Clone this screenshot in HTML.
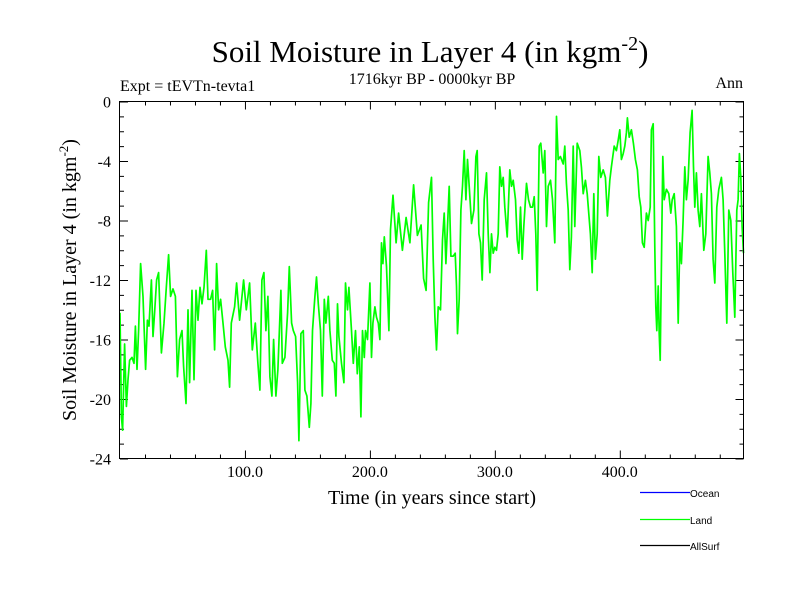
<!DOCTYPE html>
<html><head><meta charset="utf-8"><style>
body{margin:0;background:#fff}
svg text{font-family:"Liberation Serif",serif}
</style></head><body>
<svg id="chart" width="800" height="600" viewBox="0 0 800 600" xmlns="http://www.w3.org/2000/svg">
<rect width="800" height="600" fill="#fff"/>
<text x="430" y="62" font-size="31" text-anchor="middle">Soil Moisture in Layer 4 (in kgm<tspan dy="-12" font-size="20">-2</tspan><tspan dy="12">)</tspan></text>
<text x="432" y="84" font-size="16" text-anchor="middle">1716kyr BP - 0000kyr BP</text>
<text x="120" y="91" font-size="16">Expt = tEVTn-tevta1</text>
<text x="743" y="88" font-size="16" text-anchor="end">Ann</text>
<text transform="translate(76,280) rotate(-90)" font-size="20" text-anchor="middle">Soil Moisture in Layer 4 (in kgm<tspan dy="-8" font-size="13">-2</tspan><tspan dy="8">)</tspan></text>
<text x="432" y="504" font-size="20" text-anchor="middle">Time (in years since start)</text>
<g id="axes"></g>
<g id="series"></g>
<rect x="119.5" y="101.5" width="624" height="357" fill="none" stroke="#000" stroke-width="1"/>
<g>
<line x1="640" y1="492.5" x2="690" y2="492.5" stroke="#0000ff" stroke-width="1.2"/>
<text x="690" y="497" font-size="10" style="font-family:'Liberation Sans',sans-serif">Ocean</text>
<line x1="640" y1="519.5" x2="690" y2="519.5" stroke="#00ff00" stroke-width="1.2"/>
<text x="690" y="524" font-size="10" style="font-family:'Liberation Sans',sans-serif">Land</text>
<line x1="640" y1="545.5" x2="690" y2="545.5" stroke="#000" stroke-width="1.2"/>
<text x="690" y="550" font-size="10" style="font-family:'Liberation Sans',sans-serif">AllSurf</text>
</g>
</svg>
<script>
const years=[0.0,1.1,2.1,3.7,5.1,6.4,7.7,9.6,11.2,12.3,13.6,14.9,16.5,18.4,20.5,21.9,23.2,25.1,26.4,27.7,29.3,30.9,33.1,35.2,37.1,38.9,40.5,42.4,44.3,45.9,47.7,49.6,50.9,52.8,54.4,55.7,57.6,59.2,60.8,62.4,64.0,65.6,67.2,69.1,70.4,72.5,74.1,75.7,77.3,78.9,80.5,82.4,84.3,86.4,87.7,89.1,91.7,93.3,95.7,98.9,101.1,103.7,105.9,108.3,110.4,112.0,113.6,115.2,116.8,118.4,120.0,121.6,122.9,124.8,126.4,
128.8,129.9,132.0,134.1,135.5,137.3,138.7,140.5,142.1,143.2,144.8,146.7,148.0,149.6,151.5,152.8,154.1,156.0,157.3,158.7,160.5,161.9,163.5,164.8,166.7,168.0,169.9,171.5,172.8,174.1,175.2,177.3,179.2,180.5,182.1,183.2,185.3,186.7,188.5,189.9,191.5,192.8,194.1,195.5,196.5,198.1,200.0,201.3,202.4,204.0,205.3,206.7,208.0,209.3,210.4,211.5,213.3,215.2,216.5,
218.5,221,223,226,229,232,235,238,241,243,245,247,
249.3,250.7,252.0,253.3,254.7,256.5,258.1,259.5,260.8,262.1,263.5,264.8,266.7,268.3,269.3,270.1,271.5,272.8,274.1,275.5,276.8,278.1,279.5,281.3,283.2,284.8,285.9,287.2,288.5,289.9,291.5,293.3,294.7,296.0,297.3,298.7,300.0,301.3,302.7,304.0,305.3,306.7,308.0,309.9,312.0,313.3,314.7,316.5,317.9,319.2,320.5,321.9,323.2,325.3,326.9,328.5,330.1,331.5,332.8,333.9,335.5,336.8,338.7,340.0,341.3,342.7,344.5,346.1,348.0,349.3,350.7,352.5,354.7,356.0,357.3,358.7,360.0,361.3,362.7,364.0,365.9,368.0,369.3,370.7,372.5,373.9,
376.5,377.9,379.2,380.5,381.9,383.2,384.8,386.7,388.5,390.1,392.0,393.3,395.5,397.3,398.7,400.0,401.3,402.7,404.0,405.3,406.1,407.5,409.3,410.9,412.5,414.1,415.5,416.8,418.1,419.5,421.3,422.7,424.3,425.3,426.7,428.0,428.8,429.6,430.7,431.5,432.3,433.3,434.4,435.5,437.3,439.2,440.8,441.9,443.5,445.3,446.7,448.0,449.3,450.7,452.0,453.3,454.7,456.3,457.9,459.0,460.0,461.3,462.7,464.0,465.3,467.2,468.8,470.7,472.0,473.3,474.7,476.0,477.6,479.2,481.3,482.7,484.0,485.6,487.2,488.8,490.4,492.0,493.6,494.7,495.7,496.8,497.9,499.0];
const landValues=[-14.2,-21.2,-22.1,-16.3,-20.5,-18.7,-17.4,-17.2,-17.6,-15.1,-18.0,-15.4,-10.9,-13.1,-18.0,-14.7,-15.1,-12.0,-15.8,-14.2,-12.0,-11.5,-16.9,-14.9,-12.4,-10.3,-13.1,-12.6,-13.1,-18.5,-16.0,-15.4,-17.8,-20.3,-14.0,-18.9,-12.7,-18.7,-12.7,-14.7,-12.5,-13.6,-12.5,-10.0,-13.3,-13.3,-12.7,-16.7,-10.9,-14.0,-13.3,-14.9,-16.5,-17.4,-19.2,-14.9,-13.8,-12.2,-14.7,-12.0,-14.0,-12.2,-16.7,-14.9,-17.6,-19.4,-12.0,-11.5,-15.4,-13.1,-18.5,-19.8,-16.0,-19.8,-18.0,
-12.7,-17.6,-17.2,-14.2,-11.1,-14.9,-15.4,-15.8,-18.9,-22.8,-15.6,-15.4,-19.4,-19.8,-21.9,-20.3,-15.4,-13.1,-11.8,-13.6,-15.4,-19.8,-13.3,-14.9,-13.1,-15.4,-17.4,-17.6,-19.8,-13.6,-15.8,-17.6,-18.9,-12.2,-14.0,-12.5,-15.4,-17.6,-15.4,-18.3,-16.5,-21.2,-15.4,-17.2,-15.4,-16.0,-12.2,-17.2,-14.9,-13.8,-14.5,-14.9,-16.0,-9.5,-10.9,-9.1,-11.1,-15.4,-8.6,
-6.3,-9.5,-7.5,-10.0,-7.8,-9.5,-5.6,-9.0,-8.3,-11.9,-12.7,-6.8,
-5.1,-10.6,-14.5,-16.7,-13.8,-14.0,-9.3,-7.5,-10.9,-8.4,-5.7,-10.4,-10.4,-10.2,-12.4,-15.6,-13.3,-7.3,-5.7,-3.3,-6.6,-3.9,-5.7,-8.2,-7.3,-3.7,-3.3,-8.9,-9.5,-12.0,-6.6,-4.8,-8.9,-11.5,-8.9,-10.2,-9.8,-10.0,-8.9,-4.4,-5.7,-5.1,-7.1,-9.1,-4.6,-5.7,-5.3,-6.6,-9.3,-10.2,-7.1,-10.6,-8.4,-5.5,-6.6,-7.1,-7.1,-6.4,-8.9,-12.7,-3.0,-2.8,-4.8,-3.3,-8.4,-5.7,-5.3,-6.6,-9.5,-1.0,-3.9,-3.7,-4.2,-3.0,-5.5,-7.3,-11.3,-9.1,-3.0,-8.4,-2.8,-3.3,-4.4,-6.2,-5.3,-6.2,
-8.9,-11.5,-6.2,-10.6,-8.9,-3.7,-5.1,-4.6,-5.1,-7.7,-5.3,-4.4,-3.0,-3.3,-2.6,-1.9,-3.9,-3.5,-3.0,-2.1,-1.1,-2.4,-1.9,-2.8,-3.9,-4.6,-6.4,-7.1,-9.5,-9.8,-7.5,-8.0,-7.1,-1.9,-1.5,-9.8,-13.8,-15.4,-12.4,-15.6,-17.4,-11.1,-3.7,-6.6,-5.9,-6.2,-7.5,-6.6,-6.2,-8.4,-14.9,-9.5,-10.9,-8.0,-4.4,-6.6,-5.3,-2.1,-0.6,-4.4,-7.1,-4.8,-7.3,-8.4,-6.2,-10.0,-8.9,-3.7,-4.8,-6.2,-10.6,-12.2,-7.1,-5.9,-5.1,-6.6,-10.2,-14.9,-7.3,-8.0,-11.5,-14.5,-7.3,-6.6,-3.5,-5.1,-8.4,-10.2];
const xTicks=[100,200,300,400];
const yTicks=[0,-4,-8,-12,-16,-20,-24];
const X0=120,X1=743.5,Y0=101.5,Y1=458.5;
function xs(v){return X0+(v/499)*(X1-X0);}
function ys(v){return Y0+(-v/24)*(Y1-Y0);}
const NS="http://www.w3.org/2000/svg";
const axes=document.getElementById('axes');
function line(x1,y1,x2,y2,name){const l=document.createElementNS(NS,'line');l.setAttribute('x1',x1);l.setAttribute('y1',y1);l.setAttribute('x2',x2);l.setAttribute('y2',y2);l.setAttribute('stroke','#000');


axes.appendChild(l);}
for(let v=0;v>=-24;v--){const y=ys(v)+0.5;const len=(v%4===0)?8:4;line(X0,y,X0+len,y,'y-tick');line(X1,y,X1-len,y,'y-tick-right');}
for(let v=20;v<500;v+=20){const x=xs(v)+0.5;const len=(v%100===0)?8:4;line(x,Y1,x,Y1-len,'x-tick');line(x,Y0,x,Y0+len,'x-tick-top');}
yTicks.forEach(v=>{const t=document.createElementNS(NS,'text');t.setAttribute('x',111);t.setAttribute('y',ys(v)+6);t.setAttribute('font-size','16');t.setAttribute('text-anchor','end');t.textContent=v;


axes.appendChild(t);});
xTicks.forEach(v=>{const t=document.createElementNS(NS,'text');t.setAttribute('x',xs(v));t.setAttribute('y',477);t.setAttribute('font-size','16');t.setAttribute('text-anchor','middle');t.textContent=v.toFixed(1);


axes.appendChild(t);});
const p=document.createElementNS(NS,'polyline');
p.setAttribute('points',years.map((t,i)=>xs(t).toFixed(1)+','+ys(landValues[i]).toFixed(1)).join(' '));
p.setAttribute('fill','none');p.setAttribute('stroke','#00ff00');p.setAttribute('stroke-width','1.7');p.setAttribute('stroke-linejoin','round');


document.getElementById('series').appendChild(p);
</script>
</body></html>
